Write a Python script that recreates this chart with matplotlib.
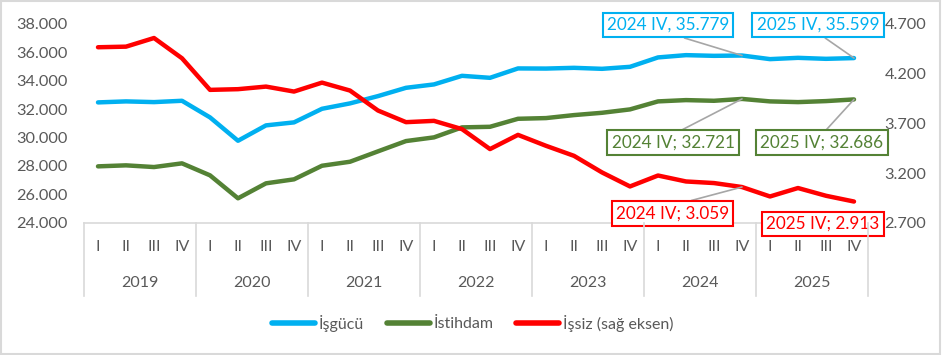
import matplotlib
matplotlib.use("Agg")
import matplotlib.pyplot as plt
import matplotlib.transforms as mtransforms
from matplotlib.lines import Line2D
from matplotlib.patches import Rectangle
from matplotlib.ticker import FuncFormatter

plt.rcParams['font.family'] = ['Lato', 'DejaVu Sans']

years = ["2019", "2020", "2021", "2022", "2023", "2024", "2025"]
quarters = ["I", "II", "III", "IV"]

isgucu = [32476, 32547, 32497, 32590, 31420, 29773, 30857, 31068,
          32026, 32406, 32920, 33504, 33743, 34349, 34208, 34870,
          34860, 34912, 34842, 34983, 35645, 35806, 35757, 35779,
          35525, 35616, 35546, 35599]
istihdam = [27970, 28041, 27921, 28182, 27337, 25718, 26774, 27055,
            28013, 28295, 29027, 29752, 30012, 30716, 30758, 31322,
            31371, 31582, 31744, 31983, 32547, 32638, 32590, 32721,
            32547, 32497, 32568, 32686]
issiz = [4466, 4472, 4559, 4355, 4037, 4044, 4070, 4020,
         4110, 4030, 3829, 3712, 3725, 3642, 3441, 3584,
         3474, 3373, 3206, 3065, 3175, 3115, 3099, 3059,
         2964, 3049, 2971, 2913]

series_names = ["İşgücü", "İstihdam", "İşsiz (sağ eksen)"]
colors = ["#00B0F0", "#548235", "#FF0000"]

W, H = 942, 355
def fx(px):
    return px / W
def fy(py):
    return 1 - py / H

fig = plt.figure(figsize=(W / 100, H / 100), dpi=100)
fig.patch.set_facecolor("white")
fig.patches.append(Rectangle((0.001, 0.002), 0.997, 0.995, transform=fig.transFigure,
                             fill=False, ec="#d9d9d9", lw=1.5))

top, bot = 24, 222.7
ax = fig.add_axes([fx(84), fy(bot), (868 - 84) / W, (bot - top) / H])
ax2 = ax.twinx()

n = len(isgucu)
x = list(range(n))
lw = 3.2
l1, = ax.plot(x, isgucu, color=colors[0], lw=lw, solid_capstyle="round", solid_joinstyle="round")
l2, = ax.plot(x, istihdam, color=colors[1], lw=lw, solid_capstyle="round", solid_joinstyle="round")
l3, = ax2.plot(x, issiz, color=colors[2], lw=lw, solid_capstyle="round", solid_joinstyle="round")

ax.set_xlim(-0.5, n - 0.5)
ax.set_ylim(24000, 38000)
ax2.set_ylim(2700, 4700)
ax.set_yticks(range(24000, 38001, 2000))
ax2.set_yticks(range(2700, 4701, 500))
fmt = FuncFormatter(lambda v, p: f"{int(v):,}".replace(",", "."))
ax.yaxis.set_major_formatter(fmt)
ax2.yaxis.set_major_formatter(fmt)
for a in (ax, ax2):
    for s in a.spines.values():
        s.set_visible(False)
    a.tick_params(axis="y", length=0, pad=12, labelsize=11.7, labelcolor="#595959")
    a.set_xticks([])
ax.spines["bottom"].set_visible(True)
ax.spines["bottom"].set_color("#d9d9d9")
ax.spines["bottom"].set_linewidth(1.2)

trans = mtransforms.blended_transform_factory(ax.transData, fig.transFigure)
for i in range(n):
    ax.text(i, fy(247), quarters[i % 4], transform=trans, ha="center", va="center",
            fontsize=11.5, color="#595959")
for k, yr in enumerate(years):
    ax.text(4 * k + 1.5, fy(283), yr, transform=trans, ha="center", va="center",
            fontsize=11.5, color="#595959")
for k in range(len(years) + 1):
    xx = -0.5 + 4 * k
    fig.lines.append(Line2D([xx, xx], [fy(223), fy(296)], transform=trans,
                            color="#d9d9d9", lw=1.2))

def label(axis, idx, val, txt, color, cx, cy, relpos, leader=True):
    arrow = dict(arrowstyle="-", color="#a6a6a6", lw=1.2, shrinkA=0, shrinkB=0,
                 relpos=relpos) if leader else None
    axis.annotate(txt, xy=(idx, val), xycoords="data",
                  xytext=(fx(cx), fy(cy)), textcoords="figure fraction",
                  ha="center", va="center", fontsize=12.3, color=color,
                  bbox=dict(boxstyle="square,pad=0.25", fc="white", ec=color, lw=1.5),
                  arrowprops=arrow, annotation_clip=False, zorder=10)

fmtv = lambda v: f"{v:,}".replace(",", ".")
label(ax, 23, isgucu[23], f"2024 IV, {fmtv(isgucu[23])}", colors[0], 668, 25, (0.5, 0))
label(ax, 27, isgucu[27], f"2025 IV, {fmtv(isgucu[27])}", colors[0], 818, 25, (0.5, 0))
label(ax, 23, istihdam[23], f"2024 IV; {fmtv(istihdam[23])}", colors[1], 673, 142.5, (0.5, 1))
label(ax, 27, istihdam[27], f"2025 IV; {fmtv(istihdam[27])}", colors[1], 822, 142.5, (0.5, 1))
label(ax2, 23, issiz[23], f"2024 IV; {fmtv(issiz[23])}", colors[2], 672.5, 213.5, (0.5, 1))
label(ax2, 27, issiz[27], f"2025 IV; {fmtv(issiz[27])}", colors[2], 823, 224, (0.5, 1), leader=False)

leg = fig.legend([l1, l2, l3], series_names, loc="center", bbox_to_anchor=(fx(473), fy(323)),
                 ncol=3, frameon=False, handlelength=2.7, handletextpad=0.25,
                 columnspacing=1.4, fontsize=11.5)
for t in leg.get_texts():
    t.set_color("#595959")
for h in leg.get_lines():
    h.set_linewidth(4)

fig.savefig("out.png", dpi=100, facecolor="white")
